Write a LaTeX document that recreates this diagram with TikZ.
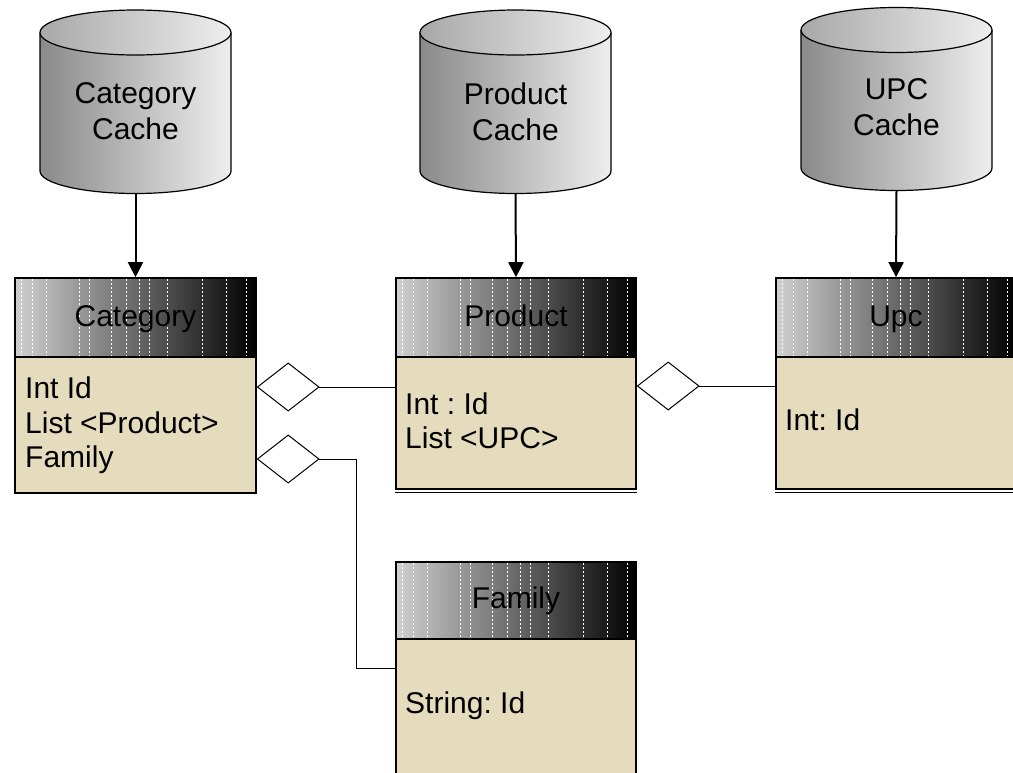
\documentclass[tikz,border=0pt]{standalone}
\usepackage{fontspec}
\setmainfont{Liberation Sans}
\frenchspacing
\usetikzlibrary{arrows.meta,calc,shapes.geometric}
\definecolor{bodyfill}{RGB}{229,219,189}
\definecolor{hdrlight}{RGB}{208,208,208}
\definecolor{cyldark}{RGB}{138,138,138}
\definecolor{cyllight}{RGB}{238,238,238}
\newcommand{\cachecyl}[4]{%
  \pgfmathsetmacro\cylcx{(#1+#2)/2}%
  \pgfmathsetmacro\cylrx{(#2-#1)/2}%
  \path[left color=cyldark, right color=cyllight] (#1,#3) rectangle (#2,#4);
  \path[left color=cyldark, right color=cyllight] (\cylcx,#4) ellipse[x radius=\cylrx, y radius=22.5];
  \draw[cylline] (#1,#3) -- (#1,#4) arc[start angle=180, end angle=0, x radius=\cylrx, y radius=22.5] -- (#2,#3);
  \draw[cylline, left color=cyldark!70!cyllight, right color=cyllight] (\cylcx,#3) ellipse[x radius=\cylrx, y radius=22.5];
}
\begin{document}
\begin{tikzpicture}[x=1pt,y=-1pt,
  bigfont/.style={font=\fontsize{30}{36}\selectfont\frenchspacing},
  cylline/.style={draw=black, line width=1.2pt},
  cyltext/.style={bigfont, align=center, inner sep=0pt},
  hdr/.style={draw=black, line width=1.6pt, left color=hdrlight, right color=black,
    inner sep=0pt, minimum width=240pt},
  hdrlabel/.style={bigfont, inner sep=0pt, anchor=base},
  classbody/.style={draw=black, line width=1.4pt, fill=bodyfill, inner sep=0pt, minimum width=240pt},
  attr/.style={bigfont, inner sep=0pt, anchor=base west},
  hdrdash/.style={draw=white, line width=0.5pt, dash pattern=on 2pt off 2pt},
  feed/.style={draw=black, line width=2pt, -{Triangle[length=15pt,width=15pt]}},
  agg/.style={draw=black, line width=1pt, {Diamond[open, length=63pt, width=49pt]}-},
  boxline/.style={draw=black, line width=1.2pt}]
\useasboundingbox (0,0) rectangle (1013,772);

% caches
\cachecyl{40}{231}{32.5}{171}
\node[cyltext] (catcachetxt) at (135.5,111) {Category\\Cache};
\coordinate (catcache) at (135.5,194);
\cachecyl{420}{611}{32.5}{171}
\node[cyltext] (prodcachetxt) at (515.5,112) {Product\\Cache};
\coordinate (prodcache) at (515.5,194);
\cachecyl{801}{992}{30}{168}
\node[cyltext] (upccachetxt) at (896.5,107) {UPC\\Cache};
\coordinate (upccache) at (896.5,191);

% class bodies
\node[classbody, minimum width=241pt, minimum height=136pt] (catbody) at (135.5,425) {};
\node[classbody, minimum height=132pt] (prodbody) at (516,423) {};
\node[classbody, minimum height=132pt] (upcbody) at (896,423) {};
\node[classbody, minimum height=161pt] (fambody) at (516,719.5) {};
\draw[boxline] ([yshift=-3pt]prodbody.south west) -- ([yshift=-3pt]prodbody.south east);
\draw[boxline] ([yshift=-3pt]upcbody.south west) -- ([yshift=-3pt]upcbody.south east);

% headers
\node[hdr, minimum width=241pt, minimum height=79pt] (cathead) at (135.5,317.5) {};
\node[hdr, minimum height=79pt] (prodhead) at (516,317.5) {};
\node[hdr, minimum height=79pt] (upchead) at (896,317.5) {};
\node[hdr, minimum height=77pt] (famhead) at (516,600.5) {};
\foreach \h in {cathead,prodhead,upchead,famhead}{
  \foreach \d in {7,18,32,65,75,97,112,125,135,153,188,212,232}{
    \draw[hdrdash] ($(\h.north west)+(\d,2)$) -- ($(\h.south west)+(\d,-2)$);
  }
}
\node[hdrlabel] (catname) at (135.5,326) {Category};
\node[hdrlabel] (prodname) at (516,326) {Product};
\node[hdrlabel] (upcname) at (896,326) {Upc};
\node[hdrlabel] (famname) at (516,608) {Family};

% attributes
\node[attr] (catid) at (25,398) {Int Id};
\node[attr] (catlist) at (25,433) {List <Product>};
\node[attr] (catfam) at (25,467) {Family};
\node[attr] (prodid) at (405,414) {Int : Id};
\node[attr] (prodlist) at (405,448) {List <UPC>};
\node[attr] (upcid) at (785,430) {Int: Id};
\node[attr] (famid) at (405,713) {String: Id};

% connectors
\draw[feed] (catcache) -- (cathead.north);
\draw[feed] (prodcache) -- (prodhead.north);
\draw[feed] (upccache) -- (upchead.north);
\draw[agg] ([yshift=38pt]catbody.east) -- ([yshift=36pt]prodbody.west);
\draw[agg] ([yshift=-34pt]catbody.east) -- ++(100,0) |- ([yshift=51.5pt]fambody.west);
\draw[agg] ([yshift=37pt]prodbody.east) -- ([yshift=37pt]upcbody.west);
\end{tikzpicture}
\end{document}
